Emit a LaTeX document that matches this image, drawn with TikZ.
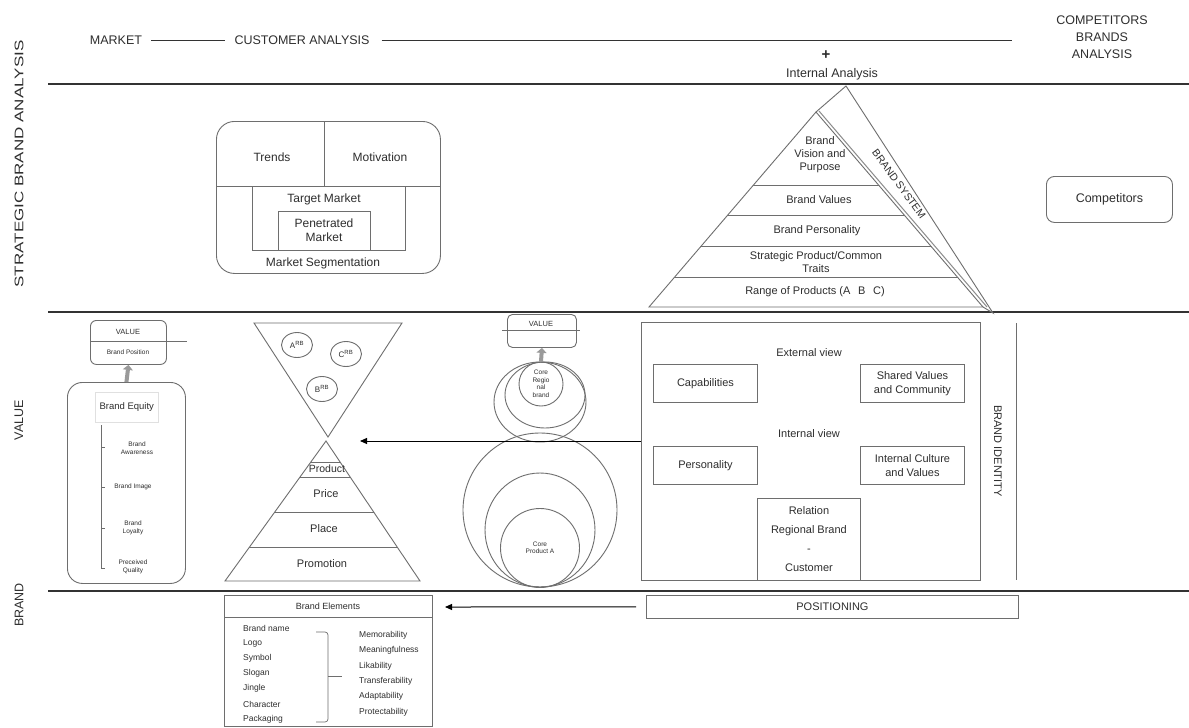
\documentclass[tikz,border=0pt]{standalone}
\usepackage{fontspec}
\setmainfont{Liberation Sans}
\usetikzlibrary{arrows.meta,shapes.geometric,calc}
\definecolor{tc}{HTML}{2E2E2E}
\definecolor{lc}{HTML}{6E6E6E}
\definecolor{sc}{HTML}{333333}
\definecolor{ga}{HTML}{9A9A9A}
\tikzset{
  fsz/.style={font=\fontsize{#1}{#1}\selectfont},
  txt/.style={text=tc, align=center, inner sep=0pt, fsz=12},
  hdr/.style={text=tc, align=center, inner sep=0pt, font=\fontsize{12.5}{17}\selectfont},
  box/.style={draw=lc, line width=0.9pt, inner sep=0pt, align=center, text=tc, fsz=12},
  rbox/.style={box, rounded corners=#1},
  secline/.style={draw=sc, line width=1.5pt},
  hline/.style={draw=sc, line width=1pt},
  thin/.style={draw=lc, line width=0.9pt},
  arr/.style={draw=black, line width=1pt, -{Triangle[length=7pt,width=6pt]}},
  garr/.style={draw=ga, line width=4pt, -{Triangle[length=5pt,width=10pt]}},
  ell/.style={draw=lc, line width=0.9pt, ellipse, inner sep=0pt, text=tc},
}
\begin{document}
\begin{tikzpicture}[x=1pt,y=-1pt]
\useasboundingbox[fill=white] (0,0) rectangle (1189,728);

% ---------- section lines ----------
\draw[secline] (48,84) -- (1189,84);
\draw[secline] (48,312) -- (1189,312);
\draw[secline] (48,591) -- (1189,591);

% ---------- vertical labels ----------
\node[hdr, rotate=90] (lsba) at (19,164) {\scalebox{1.36}[1]{STRATEGIC BRAND ANALYSIS}};
\node[hdr, rotate=90] (lval) at (19,420) {VALUE};
\node[hdr, rotate=90] (lbr) at (19,605) {BRAND};

% ---------- header ----------
\node[hdr] (market) at (116,40) {MARKET};
\node[hdr] (custan) at (302,40) {CUSTOMER ANALYSIS};
\coordinate (hend) at (1012,40);
\draw[hline] ([xshift=9pt]market.east) -- ([xshift=-9pt]custan.west);
\draw[hline] ([xshift=12pt]custan.east) -- (hend);
\node[hdr, font=\fontsize{15}{15}\selectfont] (plus) at (826,55) {\textbf{+}};
\node[hdr] (intan) at (832,74) {Internal Analysis};
\node[hdr] (compan) at (1102,37) {COMPETITORS\\BRANDS\\ANALYSIS};

% ---------- customer analysis box ----------
\node[rbox=18pt, minimum width=224pt, minimum height=152pt, anchor=north west] (cust) at (216,121) {};
\draw[thin] (324,121) -- (324,186);
\draw[thin] (216,186) -- (440,186);
\node[box, minimum width=153pt, minimum height=64pt, anchor=north west] (target) at (252,186) {};
\node[box, minimum width=92pt, minimum height=39pt, anchor=north west] (pen) at (278,211) {};
\node[txt] (trends) at (272,157) {Trends};
\node[txt] (motiv) at (380,157) {Motivation};
\node[txt] (tmk) at (324,199) {Target Market};
\node[txt, font=\fontsize{12}{14}\selectfont] (pmk) at (324,230) {Penetrated\\Market};
\node[txt] (mseg) at (323,263) {Market Segmentation};

% ---------- brand pyramid ----------
\coordinate (pa) at (816,112);
\coordinate (pl) at (649,307);
\coordinate (pr) at (983,307);
\coordinate (bt) at (846,86);
\coordinate (bb) at (993,313);
\draw[thin] (pa) -- (pl) -- (pr) -- cycle;
\draw[thin] (pa) -- (bt) -- (bb) -- (pr);
\draw[draw=lc!80, line width=1pt] ($(pa)+(3,-1)$) -- ($(pr)+(4,0)$);
\begin{scope}
  \clip (pa) -- (pl) -- (pr) -- cycle;
  \draw[thin] (600,185) -- (1000,185);
  \draw[thin] (600,215) -- (1000,215);
  \draw[thin] (600,246) -- (1000,246);
  \draw[thin] (600,277) -- (1000,277);
\end{scope}
\node[txt, font=\fontsize{11}{13}\selectfont] (pvis) at (820,155) {Brand\\Vision and\\Purpose};
\node[txt, fsz=11] (pval) at (819,200) {Brand Values};
\node[txt, fsz=11] (pper) at (817,231) {Brand Personality};
\node[txt, font=\fontsize{11}{13}\selectfont] (pstr) at (816,262) {Strategic Product/Common\\Traits};
\node[txt, fsz=11] (prng) at (815,292) {Range of Products (A\hspace{0.7em}B\hspace{0.7em}C)};
\node[txt, fsz=10.5, rotate=-54] (bsys) at (899,184) {BRAND SYSTEM};

% ---------- competitors ----------
\node[rbox=8pt, minimum width=126pt, minimum height=46pt, anchor=north west, fsz=12.5] (comp) at (1046,176) {Competitors};

% ---------- value / brand equity (left) ----------
\node[rbox=6pt, minimum width=76pt, minimum height=44pt, anchor=north west] (valbox) at (90,320) {};
\draw[draw=lc, line width=0.6pt] (90,341) -- (187,341);
\node[txt, fsz=7.5] (valt) at (128,332) {VALUE};
\node[txt, fsz=6.5] (bpos) at (128,352) {Brand Position};
\node[rbox=15pt, minimum width=118pt, minimum height=201pt, anchor=north west] (eqbox) at (67,382) {};
\draw[garr] (eqbox.north) -- (valbox.south);
\node[draw=black!12, line width=0.6pt, inner sep=0pt, minimum width=63pt, minimum height=30pt, anchor=north west, text=tc, fsz=9.5] (beq) at (95,392) {Brand Equity};
\draw[draw=lc, line width=1pt] (101,425) -- (101,568) -- (105,568);
\draw[draw=lc, line width=0.8pt] (101,447) -- (105,447);
\draw[draw=lc, line width=0.8pt] (101,487) -- (105,487);
\draw[draw=lc, line width=0.8pt] (101,528) -- (105,528);
\node[txt, font=\fontsize{6.5}{7.5}\selectfont] (baw) at (137,448) {Brand\\Awareness};
\node[txt, fsz=6.5] (bim) at (133,487) {Brand Image};
\node[txt, font=\fontsize{6.5}{7.5}\selectfont] (blo) at (133,528) {Brand\\Loyalty};
\node[txt, font=\fontsize{6.5}{7.5}\selectfont] (bqu) at (133,567) {Preceived\\Quality};

% ---------- hourglass ----------
\draw[thin] (254,323) -- (402,323) -- (328,437) -- cycle;
\coordinate (ha) at (326,441);
\coordinate (hl) at (225,581);
\coordinate (hr) at (420,581);
\draw[thin] (ha) -- (hr) -- (hl) -- cycle;
\begin{scope}
  \clip (ha) -- (hr) -- (hl) -- cycle;
  \draw[thin] (200,462) -- (450,462);
  \draw[thin] (200,477) -- (450,477);
  \draw[thin] (200,512) -- (450,512);
  \draw[thin] (200,547) -- (450,547);
\end{scope}
\node[ell, minimum width=31pt, minimum height=25pt, fsz=8] (ea) at (297,345) {A\textsuperscript{RB}};
\node[ell, minimum width=31pt, minimum height=25pt, fsz=8] (ec) at (346,354) {C\textsuperscript{RB}};
\node[ell, minimum width=31pt, minimum height=25pt, fsz=8] (eb) at (322,389) {B\textsuperscript{RB}};
\node[txt, fsz=10.5] (hprod) at (327,469) {Product};
\node[txt, fsz=11] (hpri) at (326,494) {Price};
\node[txt, fsz=11] (hpla) at (324,529) {Place};
\node[txt, fsz=11] (hpro) at (322,564) {Promotion};
\coordinate (hgt) at (360,441);

% ---------- circles ----------
\node[rbox=5pt, minimum width=69pt, minimum height=33pt, anchor=north west] (cval) at (507,314) {};
\draw[draw=lc, line width=0.6pt] (502,330) -- (580,330);
\node[txt, fsz=7.5] (cvalt) at (541,324) {VALUE};
\node[ell, minimum width=92pt, minimum height=80pt] (uc3) at (540,402) {};
\node[ell, minimum width=80pt, minimum height=66pt] (uc2) at (545,395) {};
\node[ell, minimum width=44pt, minimum height=44pt, font=\fontsize{6.5}{7.5}\selectfont, align=center] (uc1) at (541,384) {Core\\Regio\\nal\\brand};
\draw[garr] (uc1.north) -- (cval.south);
\node[ell, minimum width=154pt, minimum height=154pt] (lc3) at (540,510) {};
\node[ell, minimum width=110pt, minimum height=114pt] (lc2) at (540,530) {};
\node[ell, minimum width=79pt, minimum height=79pt, font=\fontsize{6.5}{7.5}\selectfont, align=center] (lc1) at (540,548) {Core\\Product A};

% ---------- brand identity ----------
\node[box, minimum width=339pt, minimum height=258pt, anchor=north west] (bi) at (641,322) {};
\coordinate (bil1) at (1016,323);
\coordinate (bil2) at (1016,580);
\draw[thin] (bil1) -- (bil2);
\node[txt, fsz=11, rotate=-90] (bidt) at (998,451) {BRAND IDENTITY};
\node[txt, fsz=11] (ext) at (809,353) {External view};
\node[txt, fsz=11] (int) at (809,434) {Internal view};
\node[box, minimum width=104pt, minimum height=38pt, anchor=north west, fsz=11] (cap) at (653,364) {Capabilities};
\node[box, minimum width=104pt, minimum height=38pt, anchor=north west, font=\fontsize{11}{14}\selectfont] (shv) at (860,364) {Shared Values\\and Community};
\node[box, minimum width=104pt, minimum height=38pt, anchor=north west, fsz=11] (pers) at (653,446) {Personality};
\node[box, minimum width=104pt, minimum height=38pt, anchor=north west, font=\fontsize{11}{14}\selectfont] (icv) at (860,446) {Internal Culture\\and Values};
\node[box, minimum width=103pt, minimum height=82pt, anchor=north west, font=\fontsize{11}{19}\selectfont] (rel) at (757,498) {Relation\\Regional Brand\\-\\Customer};
\draw[arr] (bi.west |- hgt) -- (hgt);

% ---------- positioning ----------
\node[box, minimum width=372pt, minimum height=23pt, anchor=north west, fsz=11] (pos) at (646,595) {POSITIONING};
\coordinate (bet) at (445,607);
\draw[arr] ([xshift=-10pt]pos.west) -- (bet);

% ---------- brand elements ----------
\node[box, minimum width=208pt, minimum height=131pt, anchor=north west] (be) at (224,595) {};
\draw[thin] (224,617) -- (432,617);
\node[txt, fsz=9] (bet1) at (328,606) {Brand Elements};
\foreach \t/\y [count=\i] in {Brand name/628, Logo/643, Symbol/658, Slogan/673, Jingle/688, Character/704, Packaging/719}
  \node[txt, fsz=8.5, anchor=west] (bel\i) at (243,\y) {\t};
\foreach \t/\y [count=\i] in {Memorability/635, Meaningfulness/650, Likability/666, Transferability/681, Adaptability/696, Protectability/712}
  \node[txt, fsz=8.5, anchor=west] (ber\i) at (359,\y) {\t};
\draw[draw=lc, line width=0.7pt, rounded corners=3pt] (316,632) -- (328,632) -- (328,722) -- (316,722);
\draw[draw=lc, line width=0.7pt] (328,676) -- (342,676);
\end{tikzpicture}
\end{document}
